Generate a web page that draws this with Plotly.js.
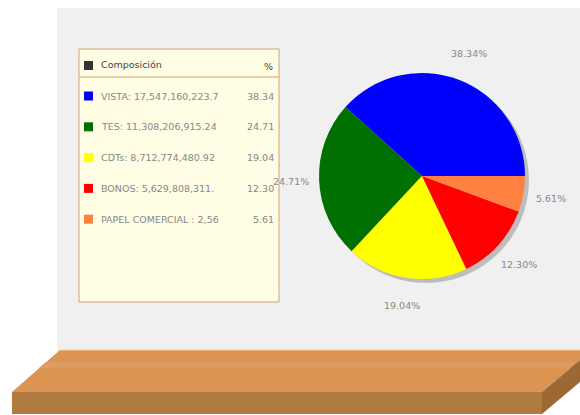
<!DOCTYPE html>
<html>
<head>
<meta charset="utf-8">
<script src="https://cdn.plot.ly/plotly-3.0.1.min.js"></script>
<style>html,body{margin:0;padding:0;background:#fff;}#chart{width:580px;height:415px;}</style>
</head>
<body>
<div id="chart"></div>
<script>
// ---- data ----
var categories = ['VISTA', 'TES', 'CDTs', 'BONOS', 'PAPEL COMERCIAL'];
var amounts = [17547160223.7, 11308206915.24, 8712774480.92, 5629808311.5, 2568000000];
var legendText = ['VISTA: 17,547,160,223.7', 'TES: 11,308,206,915.24', 'CDTs: 8,712,774,480.92', 'BONOS: 5,629,808,311.', 'PAPEL COMERCIAL : 2,56'];
var colors = ['#0000ff', '#007000', '#ffff00', '#ff0000', '#ff8040'];
var headerLabel = 'Composición';
var headerPct = '%';

// ---- helpers (pixel -> paper) ----
var W = 580, H = 415;
function px(x) { return x / W; }
function py(y) { return 1 - y / H; }

var total = amounts.reduce(function (a, b) { return a + b; }, 0);
var pcts = amounts.map(function (v) { return v / total * 100; });

// pie geometry (pixels)
var cx = 422, cy = 176, R = 103;

var traces = [
  { // shadow
    type: 'pie', values: [1], labels: ['s'], sort: false,
    marker: { colors: ['#bdbdbd'], line: { width: 0 } },
    textinfo: 'none', hoverinfo: 'skip',
    domain: { x: [px(cx - R + 4), px(cx + R + 4)], y: [py(cy + R + 4), py(cy - R + 4)] }
  },
  {
    type: 'pie', values: amounts, labels: categories, sort: false,
    direction: 'counterclockwise', rotation: 90 - 360 * pcts[0] / 100,
    marker: { colors: colors, line: { width: 0 } },
    textinfo: 'none', hoverinfo: 'skip',
    domain: { x: [px(cx - R), px(cx + R)], y: [py(cy + R), py(cy - R)] }
  }
];

var shapes = [];
var annotations = [];
var font = 'DejaVu Sans, sans-serif';

// background panel
shapes.push({ type: 'rect', xref: 'paper', yref: 'paper', layer: 'below',
  x0: px(57), x1: px(580), y0: py(352), y1: py(8), fillcolor: '#f0f0f0', line: { width: 0 } });

// shelf
function path(pts) {
  return 'M' + pts.map(function (p) { return px(p[0]) + ',' + py(p[1]); }).join(' L') + ' Z';
}
shapes.push({ type: 'path', xref: 'paper', yref: 'paper', layer: 'below',
  path: path([[60, 350], [592, 350], [542, 392], [12, 392]]), fillcolor: '#db9451', line: { width: 0 } });
shapes.push({ type: 'path', xref: 'paper', yref: 'paper', layer: 'below',
  path: path([[46, 362], [578, 362], [571, 368], [39, 368]]), fillcolor: '#de9c60', line: { width: 0 } });
shapes.push({ type: 'path', xref: 'paper', yref: 'paper', layer: 'below',
  path: path([[12, 392], [542, 392], [542, 414], [12, 414]]), fillcolor: '#b07a41', line: { width: 0 } });
shapes.push({ type: 'path', xref: 'paper', yref: 'paper', layer: 'below',
  path: path([[542, 392], [592, 350], [592, 372], [542, 414]]), fillcolor: '#9c6934', line: { width: 0 } });
shapes.push({ type: 'line', xref: 'paper', yref: 'paper', layer: 'below',
  x0: px(60), x1: px(580), y0: py(350), y1: py(350), line: { color: '#f5cfa8', width: 1 } });

// legend box
shapes.push({ type: 'rect', xref: 'paper', yref: 'paper', layer: 'below',
  x0: px(79), x1: px(279), y0: py(302), y1: py(49), fillcolor: '#fffde3', line: { color: '#cfa572', width: 1 } });
shapes.push({ type: 'line', xref: 'paper', yref: 'paper', layer: 'below',
  x0: px(79), x1: px(279), y0: py(77), y1: py(77), line: { color: '#cfa572', width: 1 } });
shapes.push({ type: 'rect', xref: 'paper', yref: 'paper', layer: 'below',
  x0: px(84), x1: px(93), y0: py(70), y1: py(61), fillcolor: '#333333', line: { width: 0 } });
annotations.push({ xref: 'paper', yref: 'paper', x: px(99), y: py(65), xanchor: 'left', yanchor: 'middle',
  text: headerLabel, showarrow: false, font: { family: font, size: 9.5, color: '#444' } });
annotations.push({ xref: 'paper', yref: 'paper', x: px(275), y: py(66), xanchor: 'right', yanchor: 'middle',
  text: headerPct, showarrow: false, font: { family: font, size: 9.5, color: '#444' } });

categories.forEach(function (c, i) {
  var ry = 96 + i * 30.8;
  shapes.push({ type: 'rect', xref: 'paper', yref: 'paper', layer: 'below',
    x0: px(84), x1: px(93), y0: py(ry + 4.5), y1: py(ry - 4.5), fillcolor: colors[i], line: { width: 0 } });
  annotations.push({ xref: 'paper', yref: 'paper', x: px(99), y: py(ry), xanchor: 'left', yanchor: 'middle',
    text: legendText[i], showarrow: false, font: { family: font, size: 9.5, color: '#888' } });
  annotations.push({ xref: 'paper', yref: 'paper', x: px(276), y: py(ry), xanchor: 'right', yanchor: 'middle',
    text: pcts[i].toFixed(2), showarrow: false, font: { family: font, size: 9.5, color: '#888' } });
});

// pie percent labels
var cum = 0;
pcts.forEach(function (p, i) {
  var mid = (cum + p / 2) / 100 * 2 * Math.PI;
  cum += p;
  var lr = R * 1.27;
  var lx = cx + lr * Math.cos(mid), ly = cy - lr * Math.sin(mid);
  annotations.push({ xref: 'paper', yref: 'paper', x: px(lx), y: py(ly), xanchor: 'center', yanchor: 'middle',
    text: p.toFixed(2) + '%', showarrow: false, font: { family: font, size: 9.5, color: '#888' } });
});

var layout = {
  width: W, height: H,
  margin: { l: 0, r: 0, t: 0, b: 0 },
  paper_bgcolor: '#ffffff', plot_bgcolor: 'rgba(0,0,0,0)',
  showlegend: false,
  shapes: shapes, annotations: annotations
};
Plotly.newPlot('chart', traces, layout, { displayModeBar: false, staticPlot: true });
</script>
</body>
</html>
